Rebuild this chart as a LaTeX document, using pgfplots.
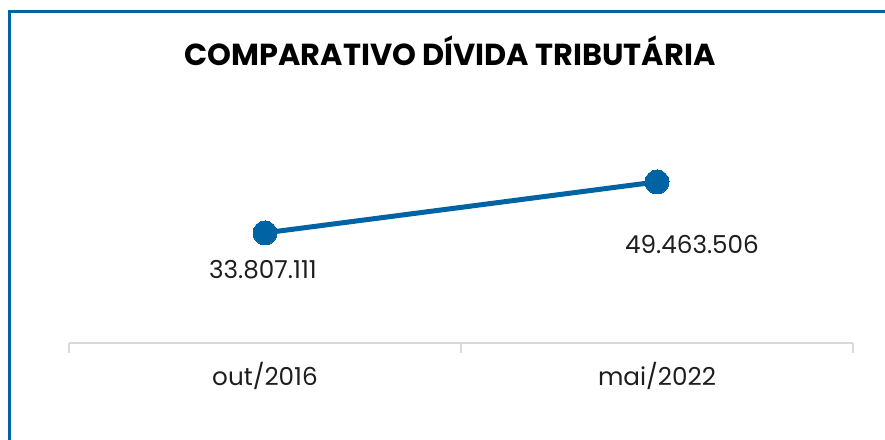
\documentclass[border=0pt]{standalone}
\usepackage{pgfplots}
\pgfplotsset{compat=1.18}
\usepackage{pgfplotstable}
\usepackage{fontspec}
\setmainfont{Poppins}
\definecolor{mainblue}{RGB}{0,99,164}
\definecolor{axisgray}{RGB}{217,217,217}
\definecolor{txt}{RGB}{30,30,30}
\pgfplotstableread{
x y dx dy label
0 33807111 -2 -37 33.807.111
1 49463506 35 -63 49.463.506
}\datatable
\begin{document}
\begin{tikzpicture}
\useasboundingbox (0,0) rectangle (663.75pt,-329.25pt);
\begin{scope}
\clip (0,0) rectangle (663.75pt,-329.25pt);
\draw[mainblue, line width=2.4pt] (6.97pt,-8.4pt) rectangle (700pt,-360pt);
\end{scope}
\node[font=\bfseries\fontsize{22.8}{26}\selectfont, text=black] at (337.5pt,-38pt) {COMPARATIVO DÍVIDA TRIBUTÁRIA};
\begin{axis}[
  at={(51.75pt,-257.25pt)}, anchor=south west,
  scale only axis, width=588pt, height=182.25pt,
  xmin=-0.5, xmax=1.5, ymin=0, ymax=74.6e6,
  axis x line*=bottom, axis y line=none,
  axis line style={axisgray, line width=1.2pt},
  xtick={0,1}, xticklabels={out/2016, mai/2022},
  major tick length=0pt,
  minor xtick={-0.5,0.5,1.5}, minor tick length=7.5pt,
  tick align=outside,
  minor tick style={axisgray, line width=1.2pt},
  xticklabel style={font=\fontsize{18.5}{22}\selectfont, text=txt, yshift=-11pt},
  clip=false,
]
\addplot[mainblue, line width=3.75pt, mark=*, mark size=9pt,
  mark options={fill=mainblue, draw=mainblue, line width=0pt},
  nodes near coords, point meta=explicit symbolic,
  visualization depends on={\thisrow{dx}\as\dx},
  visualization depends on={\thisrow{dy}\as\dy},
  nodes near coords style={font=\fontsize{18.5}{22}\selectfont, text=txt, anchor=center, xshift={\dx*0.75pt}, yshift={\dy*0.75pt}},
] table[x=x, y=y, meta=label] {\datatable};
\end{axis}
\end{tikzpicture}
\end{document}
